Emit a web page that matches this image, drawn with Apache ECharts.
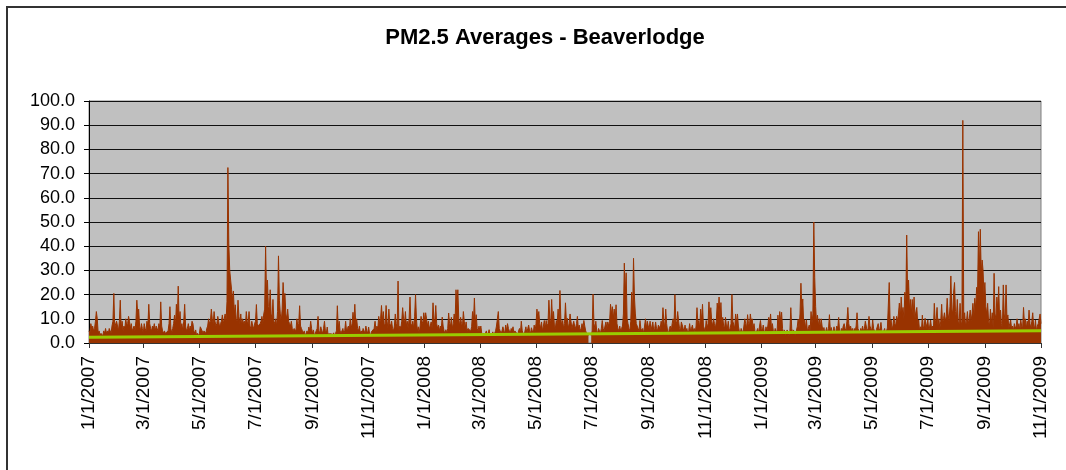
<!DOCTYPE html>
<html>
<head>
<meta charset="utf-8">
<script src="https://cdn.jsdelivr.net/npm/echarts@6/dist/echarts.min.js"></script>
<style>
  html, body { margin: 0; padding: 0; background: #fff; }
  #chart { width: 1066px; height: 470px; }
</style>
</head>
<body>
<div id="chart"></div>
<script>
// daily peak PM2.5 (ug/m3), 1/1/2007 .. 11/1/2009
var dailyPeak = [
  // 2007 Jan
  5,4,8,6,7,5,6,9,13,10,4,5,3,4,4,3,5,4,6,4,5,4,6,5,4,7,9,20.5,6,8,9,
  // Feb
  7,5,9,17.7,6,9,5,7,6,10,7,8,11,9,6,8,5,6,7,5,9,17.7,12,14,7,5,8,6,
  // Mar
  4,8,6,5,9,7,16,8,6,5,7,6,8,5,7,6,5,8,6,17,7,5,4,5,4,4.6,4,5,8,15,6,
  // Apr
  4,6,8,11.5,7,16,10,23.5,9,13,6,8,5,9,16,7,5,6,8,5,7,6,9,8,5,4,5.4,3,4,3,
  // May
  4,6.7,6,5,4,5,5.4,4,6,7,10,8,9,14,10,8,13,9,7,8,11,9,6.5,8,9,11.6,8,10,12,9,17,
  // Jun
  72.5,41,30,26,22,18,21.5,12,15.8,10,9,17.7,11,8,12,7,10,8,9,7,13,9,8,13,7,6,9,7,6,8,
  // Jul
  9,15.9,8,7,6.7,8,9,11,8,12,14,40,20,26,15,14,22,12,10,18,9,8,10,7,13,36,17.7,12,9,14,25,
  // Aug
  18,20.5,12,10,14,9,8,7,9,6,5,6,6.6,5,10,7,8,15.4,7,6,5,4,5,3,4,5,4,6.6,5,9,6,
  // Sep
  4,5.4,3,4,5,6,11,5,4,6.7,5,4,6,9,5,4,6.6,3,4,3,4,3,3,4.2,3,4,5,15.4,6,9,
  // Oct
  5,4,4.2,6,4,5,9,5,6,7,5,10,6,8,12.7,9,16,8,10,6,5,7,4,5,4,6,5,4,7,5,4,
  // Nov
  6.6,4,3,4.6,5,4,6,9,5,7,6,11,8,10,15.5,9,13,7,8,15.5,9,6,14,8,7,9,6,5,7,12,
  // Dec
  8,6,25.6,5,7,6,9,14.6,10,8,13,7,9,6,10,19,8,7,9,6,11,20,10,5,6.7,4,7,11,9,8,12.5,
  // 2008 Jan
  9,12.5,10,7,9,6,7,8.7,6,16.6,10,9,15.5,8,6,7.4,5,7,6,10.7,7,5,4,5.5,4,6,12.4,8,7,10.6,6,
  // Feb
  8,12,9,22,15,22,10,7,10.6,8,7,13,9,6,8.7,5,6,6,6.7,5,6.7,13,9,18.6,8,11.7,6,5,7,
  // Mar
  5,7,4,3,4,3,4,5,3,4,5.5,3,4,3,4.6,3,4,5,7,10,13,6,5,4,5,6.7,5,4,7.4,5,8,
  // Apr
  6,5,4,6,5,6.7,4,5,5.6,4,3,5,6,4,9,5,4,3,5,6.7,4,6,7.4,5,4,6.3,5,4,7.4,5,
  // May
  8,14,10,13,8,6,8.7,5,7,9.3,6,9.3,7,8,17.7,10,8,18,9,13,7,6,9.3,8,14,9,21.7,10,7,9.3,6,
  // Jun (data gap at the end)
  8,16.6,9,10.2,6,8,12,9,6,5.6,9,7,6,8,11,6,7.4,5,6,8,6,9.3,7,5,4,4,3,null,null,3,
  // Jul
  5,20.2,8,6,9,5,4,6,5,4,6,9.3,6,5,7,8.7,6,8.7,7,9,16,12,15,10,14,9,15.8,8,6,5,7,
  // Aug
  5,6,7,12,33,20,29,10,8,6,5,9,21,12,35,19,12,8,7,6,5,9.3,6,5,6,4,7,10,6,9,7,
  // Sep
  6,9,5,7,8.7,5,6,8.7,6,5,7.4,8,6,9,7,14.6,9,6,14,8,5,4,6,7,5,8,10,7,20,9,
  // Oct
  8,13,9,6,5,8.7,9.3,6,5,7.4,5,6,4,5,8,5,6,7.4,5,6,4,7,14.6,8,9.3,6,14,9,16,7,6,
  // Nov
  5,9.3,6,8,17,10,14.6,9,7,10,8,6,9,16.5,12,19,10,16.7,8,10.6,7,6,10.6,7,6,9,5,6,8,20,
  // Dec
  9,9,6,12,8,12,7,5,4,6,5,4,7,10,8,6,11.7,8,7,12,9,10,6,8,5,4,5,6,4,7,9.3,
  // 2009 Jan
  6,5,7.4,5,4,6.7,5,7,10.6,8,12,6,8,5,4,6,5.4,4,11.5,7,13,9,12.7,6,4,5.4,3,4,5.4,4,3,
  // Feb
  5,14.6,6,4,5.4,4,3,5,6.7,9.8,6,12,24.7,14,18.2,8,9.6,6,9.6,5,6,7.4,5,13,8,12,50,27,
  // Mar
  15,8,11.5,7,10,6,10,7,5,6.4,4,5,6.4,4,6,11.7,5,6.4,4,5,6.7,4,5,7,6,10.6,5,4,6,5,7,
  // Apr
  8,6,5,9,14.7,8,6,7,5,6,4,6,5,7,12.5,6,5,4,6,5,7,5,6,9,7,5,6,11,7,6,
  // May
  5,9.5,6,5,4,5.5,6,8,5,6,8.5,5,4,5,6,4,5,6.2,7,25,8,9.5,6,7,11,8,7,11,9,12,16.5,
  // Jun
  10,19,12,14.7,10,21,15,44.6,20,26,14,18,12,18,11,19,10,13,14.7,8,9.5,5,6.7,5,11.5,6,7,10.2,6,8,
  // Jul
  9.5,5,7,9.5,6,7,5,16.4,8,10,14.7,7,10,6,9,16,8,10,12.5,9,11,18.5,12,9,15,27.7,14,12,21,25,13,
  // Aug
  10,18,9,8,16.4,9,7,92,10,12.5,7,9,13,8,10,13.6,9,12,16.4,11,18.5,14,23,20,46,30,47,29,34.3,30,20,
  // Sep
  25,15,12,16.4,9,7,14,8,12.5,6,28.8,12,10,19,14,23.3,10,13.6,8,6,24,12,9,24,10,11.6,6,8,9.5,6,
  // Oct
  7,5,8,6,7,10,6,8,5,9.5,7,6,14.7,8,10,6,9,7,13.6,8,6,9,12.5,7,6,9.5,5,7,8,10,12,
  // Nov 1
  8
];

// linear trend, ends
var trendEnds = [2.35, 5.1];

var startDate = '1/1/2007';
var tickLabels = ['1/1/2007', '3/1/2007', '5/1/2007', '7/1/2007', '9/1/2007', '11/1/2007',
  '1/1/2008', '3/1/2008', '5/1/2008', '7/1/2008', '9/1/2008', '11/1/2008',
  '1/1/2009', '3/1/2009', '5/1/2009', '7/1/2009', '9/1/2009', '11/1/2009'];

function dayIndex(s) {
  var p = s.split('/');
  var p0 = startDate.split('/');
  var t = Date.UTC(+p[2], +p[0] - 1, +p[1]);
  var t0 = Date.UTC(+p0[2], +p0[0] - 1, +p0[1]);
  return Math.round((t - t0) / 86400000);
}

var tickDays = [];
var labelByDay = {};
for (var i = 0; i < tickLabels.length; i++) {
  var d = dayIndex(tickLabels[i]);
  tickDays.push(d);
  labelByDay[d] = tickLabels[i];
}
var lastDay = dailyPeak.length - 1;

var peakData = [];
for (var i = 0; i < dailyPeak.length; i++) {
  peakData.push([i, dailyPeak[i] == null ? '-' : dailyPeak[i]]);
}

var myChart = echarts.init(document.getElementById('chart'));
var font = 'Liberation Sans, Arial, sans-serif';

var option = {
  backgroundColor: '#fff',
  animation: false,
  title: {
    text: 'PM2.5 Averages - Beaverlodge',
    left: 540,
    textAlign: 'center',
    top: 22,
    textStyle: { fontFamily: font, fontSize: 22, fontWeight: 'bold', color: '#000' }
  },
  // chart frame: only the left and top edges fall inside the picture
  graphic: [{
    type: 'polyline',
    shape: { points: [[7, 470], [7, 7], [1066, 7]] },
    style: { fill: null, stroke: '#333', lineWidth: 2 },
    silent: true
  }],
  grid: {
    left: 89, right: 25, top: 101, bottom: 127,
    show: true,
    backgroundColor: '#c0c0c0',
    borderColor: '#808080',
    borderWidth: 1
  },
  xAxis: {
    type: 'value',
    min: 0,
    max: lastDay,
    splitLine: { show: false },
    axisLine: { show: true, onZero: false, lineStyle: { color: '#333', width: 1 } },
    axisTick: { show: true, customValues: tickDays, length: 5, lineStyle: { color: '#333' } },
    axisLabel: {
      customValues: tickDays,
      rotate: 90,
      margin: 13,
      fontFamily: font,
      fontSize: 19,
      color: '#000',
      formatter: function (v) { return labelByDay[Math.round(v)] || ''; }
    }
  },
  yAxis: {
    type: 'value',
    min: 0,
    max: 100,
    interval: 10,
    axisLine: { show: true, lineStyle: { color: '#000', width: 1 } },
    axisTick: { show: true, length: 5, lineStyle: { color: '#000' } },
    splitLine: { show: true, lineStyle: { color: '#111', width: 1 } },
    axisLabel: {
      margin: 14,
      fontFamily: font,
      fontSize: 18,
      color: '#000',
      formatter: function (v) { return v.toFixed(1); }
    }
  },
  series: [{
    name: 'PM2.5',
    type: 'line',
    data: peakData,
    showSymbol: false,
    sampling: null,
    connectNulls: false,
    lineStyle: { color: '#993300', width: 1 },
    itemStyle: { color: '#993300' },
    areaStyle: { color: '#993300', opacity: 1 },
    z: 2
  }, {
    name: 'Trend',
    type: 'line',
    data: [[0, trendEnds[0]], [lastDay, trendEnds[1]]],
    showSymbol: false,
    lineStyle: { color: '#99cc00', width: 3 },
    itemStyle: { color: '#99cc00' },
    z: 3
  }]
};
myChart.setOption(option);
</script>
</body>
</html>
